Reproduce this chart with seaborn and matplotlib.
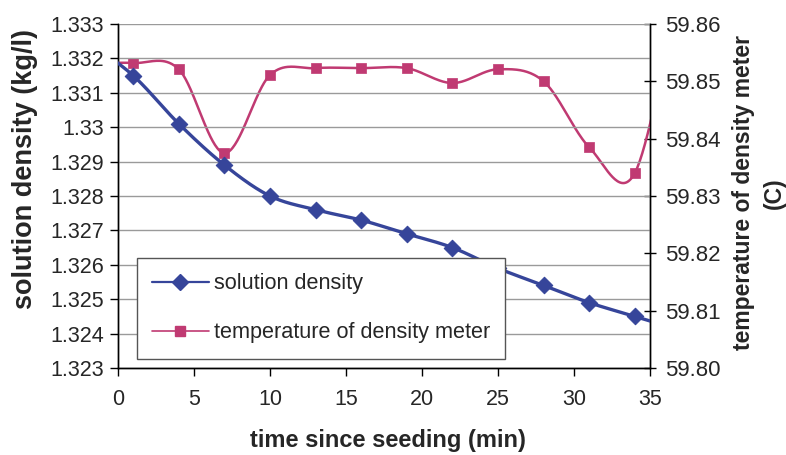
import numpy as np
import pandas as pd
import matplotlib
matplotlib.use("Agg")
import matplotlib.pyplot as plt
import seaborn as sns
from matplotlib.lines import Line2D

# Sampling times (min); the first and last samples fall just outside the shown range
time_min = [-2, 1, 4, 7, 10, 13, 16, 19, 22, 25, 28, 31, 34, 37]
solution_density = [1.3325, 1.3315, 1.3301, 1.3289, 1.3280, 1.3276, 1.3273,
                    1.3269, 1.3265, 1.3259, 1.3254, 1.3249, 1.3245, 1.3241]
meter_temperature = [59.8530, 59.8532, 59.8521, 59.8375, 59.8511, 59.8523, 59.8523,
                     59.8523, 59.8497, 59.8521, 59.8500, 59.8385, 59.8340, 59.8680]

density_ticks = [1.323, 1.324, 1.325, 1.326, 1.327, 1.328, 1.329, 1.330, 1.331, 1.332, 1.333]
density_labels = ["1.323", "1.324", "1.325", "1.326", "1.327", "1.328", "1.329",
                  "1.33", "1.331", "1.332", "1.333"]
temp_ticks = [59.80, 59.81, 59.82, 59.83, 59.84, 59.85, 59.86]
time_ticks = [0, 5, 10, 15, 20, 25, 30, 35]

BLUE = "#36459a"
PINK = "#c03a72"
W, H = 786, 455


def smooth(xs, ys, n=40):
    """Bezier smoothing through every point (control points at 1/6 of neighbour span)."""
    xs = np.asarray(xs, float)
    ys = np.asarray(ys, float)
    px = np.concatenate([[xs[0]], xs, [xs[-1]]])
    py = np.concatenate([[ys[0]], ys, [ys[-1]]])
    out_x, out_y = [], []
    t = np.linspace(0, 1, n)
    for i in range(1, len(px) - 2):
        p0 = np.array([px[i], py[i]])
        p3 = np.array([px[i + 1], py[i + 1]])
        c1 = p0 + (np.array([px[i + 1], py[i + 1]]) - np.array([px[i - 1], py[i - 1]])) / 6
        c2 = p3 - (np.array([px[i + 2], py[i + 2]]) - p0) / 6
        b = ((1 - t) ** 3)[:, None] * p0 + (3 * (1 - t) ** 2 * t)[:, None] * c1 \
            + (3 * (1 - t) * t ** 2)[:, None] * c2 + (t ** 3)[:, None] * p3
        out_x.extend(b[:, 0])
        out_y.extend(b[:, 1])
    return np.array(out_x), np.array(out_y)


sns.set_theme(style="white")
plt.rcParams["font.family"] = ["Liberation Sans", "DejaVu Sans"]

fig = plt.figure(figsize=(W / 100, H / 100), dpi=100)
ax = fig.add_axes([118 / W, 1 - 368 / H, (650 - 118) / W, (368 - 24) / H])
ax2 = ax.twinx()

points = pd.DataFrame({"time": time_min, "density": solution_density,
                       "temperature": meter_temperature})

sx, sy = smooth(time_min, solution_density)
tx, ty = smooth(time_min, meter_temperature)
curve_d = pd.DataFrame({"time": sx, "density": sy})
curve_t = pd.DataFrame({"time": tx, "temperature": ty})

sns.lineplot(data=curve_d, x="time", y="density", ax=ax, color=BLUE, lw=2.4,
             sort=False, estimator=None, zorder=3)
sns.scatterplot(data=points, x="time", y="density", ax=ax, marker="D", s=70,
                color=BLUE, edgecolor=BLUE, linewidth=0.8, zorder=4)

sns.lineplot(data=curve_t, x="time", y="temperature", ax=ax2, color=PINK, lw=1.8,
             sort=False, estimator=None, zorder=3)
sns.scatterplot(data=points, x="time", y="temperature", ax=ax2, marker="s", s=60,
                color=PINK, edgecolor=PINK, linewidth=0.5, zorder=4)

ax.set_xlim(0, 35)
ax.set_ylim(1.323, 1.333)
ax2.set_ylim(59.80, 59.86)
ax.set_xticks(time_ticks)
ax.set_xticklabels([str(v) for v in time_ticks])
ax.set_yticks(density_ticks)
ax.set_yticklabels(density_labels)
ax2.set_yticks(temp_ticks)
ax2.set_yticklabels([f"{v:.2f}" for v in temp_ticks])
ax.set_xlabel("")
ax.set_ylabel("")
ax2.set_ylabel("")

ax.yaxis.grid(True, color="#9a9a9a", lw=1.0)
ax.xaxis.grid(False)
ax2.grid(False)
ax.set_axisbelow(True)

for a in (ax, ax2):
    a.spines["top"].set_visible(False)
    for s in ("left", "right", "bottom"):
        a.spines[s].set_color("black")
        a.spines[s].set_linewidth(1.0)
ax.tick_params(axis="y", direction="out", length=6, width=1, color="black",
               labelsize=15.5, pad=4, left=True)
ax.tick_params(axis="x", direction="out", length=6, width=1, color="black",
               labelsize=15.5, pad=9, bottom=True)
ax2.tick_params(axis="y", direction="inout", length=8, width=1, color="black",
                labelsize=16, pad=7, right=True)

# Axis titles placed in figure pixel coordinates
fig.text(388 / W, 1 - 440 / H, "time since seeding (min)", fontsize=17,
         fontweight="bold", ha="center", va="center")
fig.text(25 / W, 1 - 169 / H, "solution density (kg/l)", fontsize=19.5,
         fontweight="bold", ha="center", va="center", rotation=90)
fig.text(759 / W, 1 - 193 / H, "temperature of density meter\n(C)", fontsize=16.5,
         fontweight="bold", ha="center", va="center", rotation=90,
         multialignment="center", linespacing=1.45)

handles = [
    Line2D([0], [0], color=BLUE, lw=1.6, marker="D", ms=8, mfc=BLUE, mec=BLUE),
    Line2D([0], [0], color=PINK, lw=1.2, marker="s", ms=7.5, mfc=PINK, mec=PINK),
]
leg = ax.legend(handles, ["solution density", "temperature of density meter"],
                loc="upper left", bbox_to_anchor=(19 / 532, 110 / 344), fontsize=15.6,
                frameon=True, fancybox=False, framealpha=1, edgecolor="#555555",
                handlelength=2.6, handletextpad=0.25, labelspacing=1.3,
                borderpad=0.7, borderaxespad=0)
leg.get_frame().set_linewidth(1.0)
leg.set_zorder(10)
ax.set_zorder(ax2.get_zorder() + 1)
ax.patch.set_visible(False)

fig.savefig("out.png", dpi=100)
